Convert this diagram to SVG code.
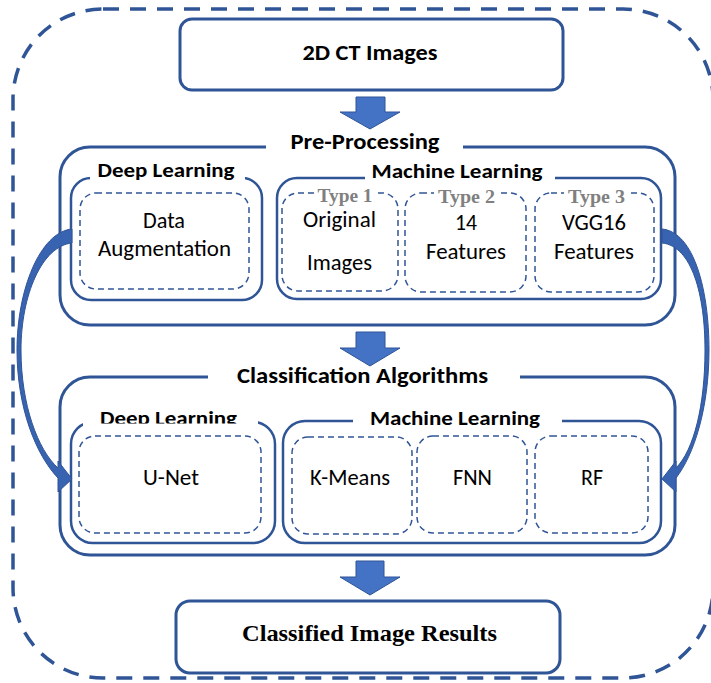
<svg xmlns="http://www.w3.org/2000/svg" width="711" height="683" viewBox="0 0 711 683">
  <style>
    .frame { fill: none; stroke: #2F5597; stroke-width: 3.5; stroke-dasharray: 16 11; }
    .box { fill: #ffffff; stroke: #2F5597; stroke-width: 3; }
    .panel { fill: none; stroke: #2F5597; stroke-width: 3; }
    .sub { fill: none; stroke: #2F5597; stroke-width: 2.5; }
    .dash { fill: none; stroke: #2F5597; stroke-width: 1.5; stroke-dasharray: 6 4; }
    .mask { fill: #ffffff; stroke: none; }
    .title { font-family: Carlito, Lato, "Liberation Sans", sans-serif; font-weight: bold; font-size: 22px; fill: #000; text-anchor: middle; }
    .subtitle { font-family: Carlito, Lato, "Liberation Sans", sans-serif; font-weight: bold; font-size: 21px; fill: #000; text-anchor: middle; }
    .label { font-family: Carlito, Lato, "Liberation Sans", sans-serif; font-size: 22px; fill: #000; text-anchor: middle; }
    .type { font-family: "Liberation Serif", serif; font-weight: bold; font-size: 19px; fill: #808080; text-anchor: middle; }
    .serif { font-family: "Liberation Serif", serif; font-weight: bold; font-size: 24px; fill: #000; text-anchor: middle; }
    .block { fill: #4472C4; stroke: #2F5597; stroke-width: 1; }
    .curve { fill: #3763B0; stroke: #2F5597; stroke-width: 1; }
  </style>
  <defs>
    <clipPath id="clipTop">
      <rect x="0" y="390" width="711" height="33.5"/>
    </clipPath>
  </defs>

  <rect width="711" height="683" fill="#ffffff"/>

  <!-- outer dashed frame -->
  <rect class="frame" x="13" y="9" width="700" height="669" rx="90"/>

  <!-- input -->
  <g id="input">
    <rect class="box" x="180" y="19" width="383" height="71" rx="12"/>
    <text class="title" x="370" y="60" textLength="135" lengthAdjust="spacingAndGlyphs">2D CT Images</text>
  </g>

  <!-- pre-processing stage -->
  <g id="preprocessing">
    <rect class="panel" x="60" y="147" width="615" height="178" rx="30"/>
    <rect class="mask" x="266" y="134" width="197" height="22"/>
    <text class="title" x="365" y="149" textLength="149" lengthAdjust="spacingAndGlyphs">Pre-Processing</text>

    <g id="pp-deep">
      <rect class="sub" x="71" y="178" width="191" height="122" rx="20"/>
      <rect class="mask" x="90" y="166" width="155" height="18"/>
      <text class="subtitle" x="166" y="177" textLength="137" lengthAdjust="spacingAndGlyphs">Deep Learning</text>
      <g id="augmentation">
        <rect class="dash" x="80" y="193" width="169" height="96" rx="16"/>
        <text class="label" x="164" y="228" textLength="42" lengthAdjust="spacingAndGlyphs">Data</text>
        <text class="label" x="164.5" y="256" textLength="133" lengthAdjust="spacingAndGlyphs">Augmentation</text>
      </g>
    </g>

    <g id="pp-machine">
      <rect class="sub" x="277" y="178" width="384" height="121" rx="20"/>
      <rect class="mask" x="365" y="166" width="190" height="18"/>
      <text class="subtitle" x="457" y="178" textLength="171" lengthAdjust="spacingAndGlyphs">Machine Learning</text>

      <g id="type1">
        <rect class="dash" x="282" y="193" width="116" height="98" rx="16"/>
        <rect class="mask" x="314" y="187" width="63" height="11"/>
        <text class="type" x="345" y="202" textLength="55" lengthAdjust="spacingAndGlyphs">Type 1</text>
        <text class="label" x="339.5" y="227" textLength="73" lengthAdjust="spacingAndGlyphs">Original</text>
        <text class="label" x="339.5" y="270" textLength="65" lengthAdjust="spacingAndGlyphs">Images</text>
      </g>
      <g id="type2">
        <rect class="dash" x="405" y="193" width="121" height="99" rx="16"/>
        <rect class="mask" x="434" y="187" width="65" height="11"/>
        <text class="type" x="466.5" y="203" textLength="57" lengthAdjust="spacingAndGlyphs">Type 2</text>
        <text class="label" x="466" y="230" textLength="22" lengthAdjust="spacingAndGlyphs">14</text>
        <text class="label" x="466" y="259" textLength="80" lengthAdjust="spacingAndGlyphs">Features</text>
      </g>
      <g id="type3">
        <rect class="dash" x="535" y="193" width="119" height="99" rx="16"/>
        <rect class="mask" x="564" y="187" width="65" height="11"/>
        <text class="type" x="596.5" y="203" textLength="57" lengthAdjust="spacingAndGlyphs">Type 3</text>
        <text class="label" x="594" y="230" textLength="64" lengthAdjust="spacingAndGlyphs">VGG16</text>
        <text class="label" x="594" y="259" textLength="80" lengthAdjust="spacingAndGlyphs">Features</text>
      </g>
    </g>
  </g>

  <!-- classification stage -->
  <g id="classification">
    <rect class="panel" x="60" y="377" width="615" height="178" rx="30"/>
    <rect class="mask" x="208" y="364" width="312" height="22"/>
    <text class="title" x="362.5" y="383" textLength="251" lengthAdjust="spacingAndGlyphs">Classification Algorithms</text>

    <g id="ca-deep">
      <rect class="sub" x="71" y="422" width="204" height="121" rx="22"/>
      <rect class="mask" x="83" y="403" width="175" height="24"/>
      <text class="subtitle" x="168.5" y="424.5" textLength="137" lengthAdjust="spacingAndGlyphs" clip-path="url(#clipTop)">Deep Learning</text>
      <g id="unet">
        <rect class="dash" x="79" y="436" width="182" height="97" rx="16"/>
        <text class="label" x="171" y="485" textLength="56" lengthAdjust="spacingAndGlyphs">U-Net</text>
      </g>
    </g>

    <g id="ca-machine">
      <rect class="sub" x="283" y="421" width="378" height="122" rx="22"/>
      <rect class="mask" x="353" y="409" width="209" height="18"/>
      <text class="subtitle" x="455" y="425" textLength="170" lengthAdjust="spacingAndGlyphs">Machine Learning</text>
      <g id="kmeans">
        <rect class="dash" x="292" y="437" width="120" height="97" rx="16"/>
        <text class="label" x="350" y="485" textLength="80" lengthAdjust="spacingAndGlyphs">K-Means</text>
      </g>
      <g id="fnn">
        <rect class="dash" x="417" y="436" width="110" height="97" rx="16"/>
        <text class="label" x="472.5" y="485" textLength="39" lengthAdjust="spacingAndGlyphs">FNN</text>
      </g>
      <g id="rf">
        <rect class="dash" x="535" y="436" width="113" height="97" rx="16"/>
        <text class="label" x="592" y="485" textLength="22" lengthAdjust="spacingAndGlyphs">RF</text>
      </g>
    </g>
  </g>

  <!-- output -->
  <g id="output">
    <rect class="box" x="176" y="601" width="384" height="72" rx="14"/>
    <text class="serif" x="369.5" y="641" textLength="255" lengthAdjust="spacingAndGlyphs">Classified Image Results</text>
  </g>

  <!-- connectors -->
  <g id="connectors">
    <polygon class="block" points="356,97 385,97 385,112 400,112 370,129 340,112 356,112"/>
    <polygon class="block" points="356,332 385,332 385,348 400,348 370,366 340,348 356,348"/>
    <polygon class="block" points="356,561 384,561 384,577 400,577 370,595 340,577 356,577"/>
    <!-- deep learning branch: augmentation to U-Net -->
    <path class="curve" d="M72,229 C40,232 17,290 17,350 C17,408 36,455 58,478 L58,492 L72,479 L58,461 L58,468 C38,450 21,405 21,350 C21,295 42,246 72,243 Z"/>
    <!-- machine learning branch: features to classifiers -->
    <path class="curve" d="M662,229 C694,232 709,290 709,350 C709,408 694,455 676,478 L676,492 L662,479 L676,461 L676,468 C694,450 705,405 705,350 C705,295 692,246 662,243 Z"/>
  </g>
</svg>
